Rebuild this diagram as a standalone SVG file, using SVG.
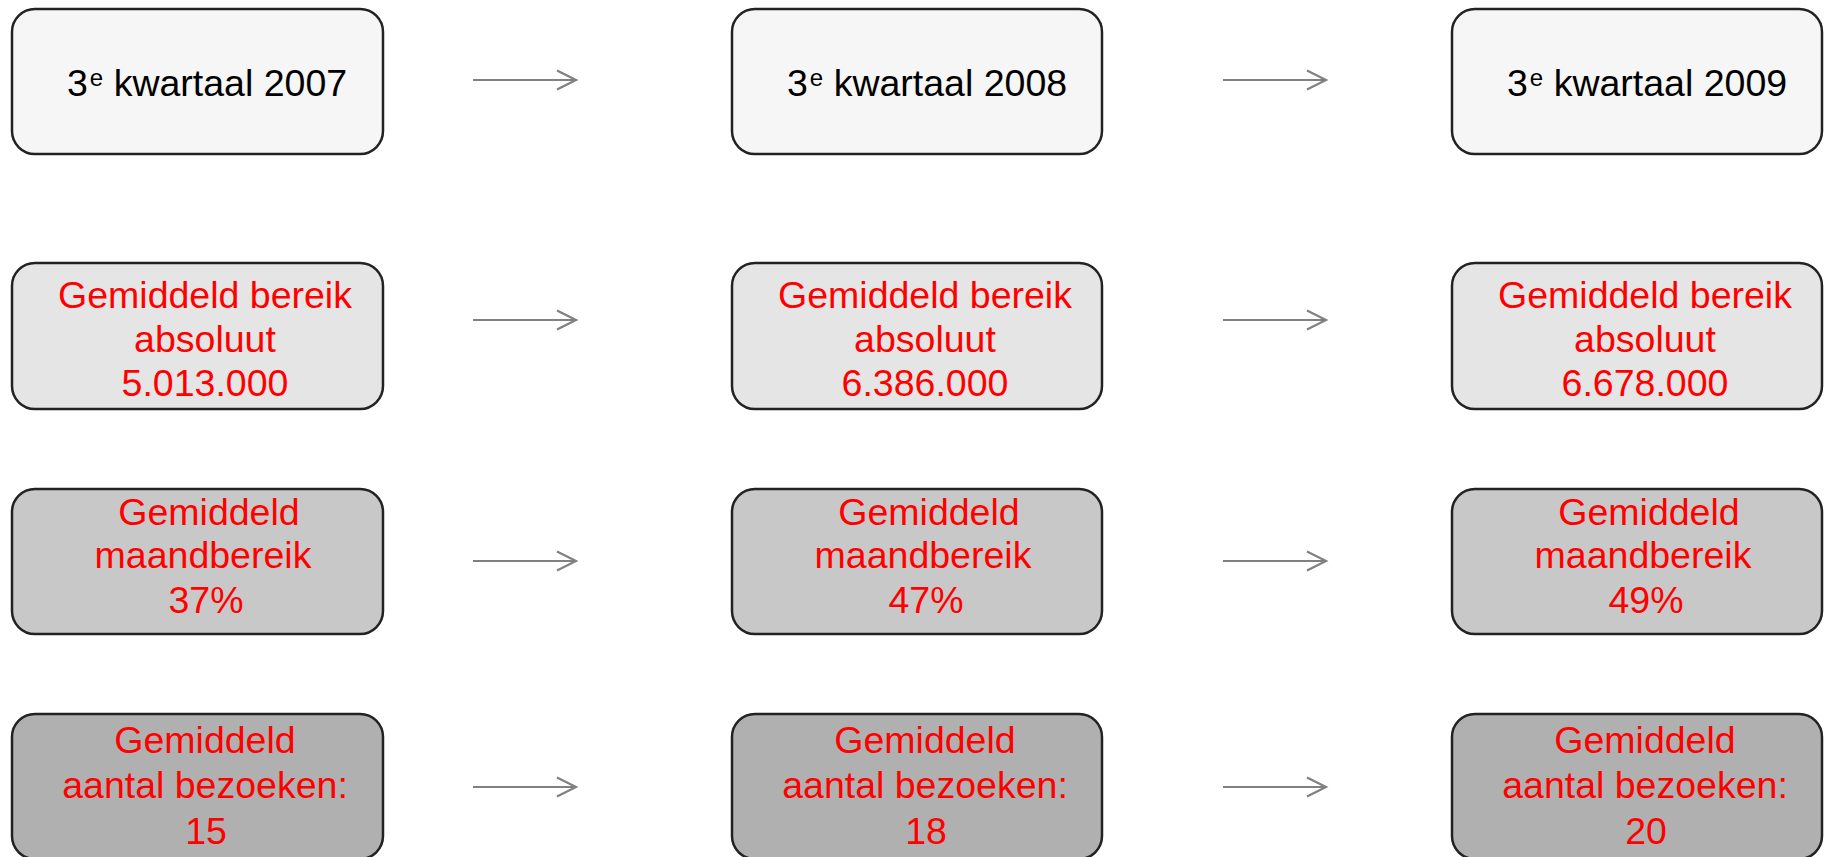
<svg xmlns="http://www.w3.org/2000/svg" width="1827" height="857" viewBox="0 0 1827 857">
<defs>
<style>
.box{stroke:#222;stroke-width:2.5}
.r1{fill:#f6f6f6}.r2{fill:#e5e5e5}.r3{fill:#c8c8c8}.r4{fill:#b0b0b0}
.t{font-family:"Liberation Sans",Arial,sans-serif;font-size:37.5px}
.hd{fill:#000}
.v{fill:#ff0000;text-anchor:middle}
.sup{font-size:24px}
.arr{stroke:#808080;stroke-width:2.2;fill:none}
</style>
</defs>
<rect width="1827" height="857" fill="#fff"/>
<g id="conn">
<path class="arr" d="M473 80H576M557 70.5L576 80L557 89.5"/>
<path class="arr" d="M1223 80H1326M1307 70.5L1326 80L1307 89.5"/>
<path class="arr" d="M473 320H576M557 310.5L576 320L557 329.5"/>
<path class="arr" d="M1223 320H1326M1307 310.5L1326 320L1307 329.5"/>
<path class="arr" d="M473 561H576M557 551.5L576 561L557 570.5"/>
<path class="arr" d="M1223 561H1326M1307 551.5L1326 561L1307 570.5"/>
<path class="arr" d="M473 787H576M557 777.5L576 787L557 796.5"/>
<path class="arr" d="M1223 787H1326M1307 777.5L1326 787L1307 796.5"/>
</g>
<g id="q2007"><rect class="box r1" x="12" y="9" width="371" height="145" rx="23"/><text class="t hd" x="67" y="96">3<tspan class="sup" dx="2" dy="-10.5">e</tspan><tspan dy="10.5"> kwartaal 2007</tspan></text></g>
<g id="q2008"><rect class="box r1" x="732" y="9" width="370" height="145" rx="23"/><text class="t hd" x="787" y="96">3<tspan class="sup" dx="2" dy="-10.5">e</tspan><tspan dy="10.5"> kwartaal 2008</tspan></text></g>
<g id="q2009"><rect class="box r1" x="1452" y="9" width="370" height="145" rx="23"/><text class="t hd" x="1507" y="96">3<tspan class="sup" dx="2" dy="-10.5">e</tspan><tspan dy="10.5"> kwartaal 2009</tspan></text></g>

<g id="abs2007"><rect class="box r2" x="12" y="263" width="371" height="146" rx="23"/><text class="t v"><tspan x="205" y="308">Gemiddeld bereik</tspan><tspan x="205" y="352">absoluut</tspan><tspan x="205" y="396">5.013.000</tspan></text></g>
<g id="abs2008"><rect class="box r2" x="732" y="263" width="370" height="146" rx="23"/><text class="t v"><tspan x="925" y="308">Gemiddeld bereik</tspan><tspan x="925" y="352">absoluut</tspan><tspan x="925" y="396">6.386.000</tspan></text></g>
<g id="abs2009"><rect class="box r2" x="1452" y="263" width="370" height="146" rx="23"/><text class="t v"><tspan x="1645" y="308">Gemiddeld bereik</tspan><tspan x="1645" y="352">absoluut</tspan><tspan x="1645" y="396">6.678.000</tspan></text></g>

<g id="mnd2007"><rect class="box r3" x="12" y="489" width="371" height="145" rx="23"/><text class="t v"><tspan x="209" y="525">Gemiddeld</tspan><tspan x="203" y="568">maandbereik</tspan><tspan x="206" y="613">37%</tspan></text></g>
<g id="mnd2008"><rect class="box r3" x="732" y="489" width="370" height="145" rx="23"/><text class="t v"><tspan x="929" y="525">Gemiddeld</tspan><tspan x="923" y="568">maandbereik</tspan><tspan x="926" y="613">47%</tspan></text></g>
<g id="mnd2009"><rect class="box r3" x="1452" y="489" width="370" height="145" rx="23"/><text class="t v"><tspan x="1649" y="525">Gemiddeld</tspan><tspan x="1643" y="568">maandbereik</tspan><tspan x="1646" y="613">49%</tspan></text></g>

<g id="bez2007"><rect class="box r4" x="12" y="714" width="371" height="145" rx="23"/><text class="t v"><tspan x="205" y="753">Gemiddeld</tspan><tspan x="205" y="798">aantal bezoeken:</tspan><tspan x="206" y="844">15</tspan></text></g>
<g id="bez2008"><rect class="box r4" x="732" y="714" width="370" height="145" rx="23"/><text class="t v"><tspan x="925" y="753">Gemiddeld</tspan><tspan x="925" y="798">aantal bezoeken:</tspan><tspan x="926" y="844">18</tspan></text></g>
<g id="bez2009"><rect class="box r4" x="1452" y="714" width="370" height="145" rx="23"/><text class="t v"><tspan x="1645" y="753">Gemiddeld</tspan><tspan x="1645" y="798">aantal bezoeken:</tspan><tspan x="1646" y="844">20</tspan></text></g>
</svg>
